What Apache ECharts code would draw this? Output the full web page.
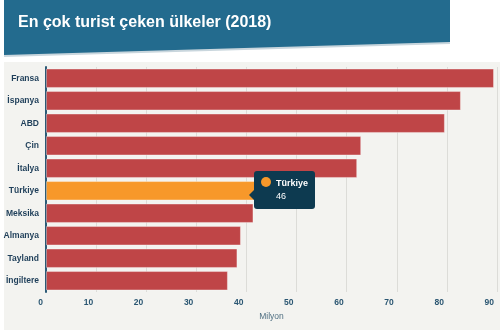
<!DOCTYPE html>
<html><head><meta charset="utf-8">
<script src="https://cdn.jsdelivr.net/npm/echarts@6/dist/echarts.min.js"></script>
<style>html,body{margin:0;padding:0;background:#fff}#c{width:500px;height:332px}</style>
</head><body><div id="c"></div>
<script>
var titleText = 'En çok turist çeken ülkeler (2018)';
var countries = ['Fransa','İspanya','ABD','Çin','İtalya','Türkiye','Meksika','Almanya','Tayland','İngiltere'];
var values = [89.4, 82.8, 79.6, 62.9, 62.1, 46, 41.4, 38.9, 38.2, 36.3];
var highlight = 'Türkiye';
var xTicks = {min:0, max:90, interval:10};
var axisName = 'Milyon';

var chart = echarts.init(document.getElementById('c'));
var font = '"Liberation Sans",Arial,sans-serif';
chart.setOption({
  animation:false,
  backgroundColor:'#ffffff',
  graphic:[
    {type:'rect', z:-10, shape:{x:4,y:62,width:496,height:268}, style:{fill:'#f3f3f0'}},
    {type:'polygon', z:1, shape:{points:[[4,2],[450,2],[450,44],[4,57]]}, style:{fill:'#c9d6dd'}},
    {type:'polygon', z:2, shape:{points:[[4,0],[450,0],[450,42],[4,55]]}, style:{fill:'#236b8e'}},
    {type:'text', z:3, left:18, top:15, style:{text:titleText, fill:'#ffffff', font:'bold 16px '+font}}
  ],
  grid:{left:46, right:3, top:67, bottom:40, containLabel:false},
  xAxis:{type:'value', min:xTicks.min, max:xTicks.max, interval:xTicks.interval,
    name:axisName, nameLocation:'middle', nameGap:18,
    nameTextStyle:{color:'#4f6f82', fontFamily:font, fontSize:8.5},
    axisLine:{show:false}, axisTick:{show:false},
    splitLine:{show:true, lineStyle:{color:'#dcdcd8', width:1}},
    axisLabel:{align:'right', margin:6, padding:[0,3,0,0], color:'#2a5672', fontFamily:font, fontWeight:'bold', fontSize:8.5}
  },
  yAxis:{type:'category', data:countries, inverse:true,
    axisLine:{show:true, lineStyle:{color:'#2b5a76', width:2}},
    axisTick:{show:false},
    axisLabel:{color:'#1f3f5a', fontFamily:font, fontWeight:'bold', fontSize:8.5, margin:7}
  },
  tooltip:{trigger:'item', triggerOn:'none', alwaysShowContent:true,
    backgroundColor:'#0d3a50', borderWidth:0, padding:[6,7,6,7],
    extraCssText:'border-radius:3px;box-shadow:none;overflow:visible;',
    position:function(){ return [254,171]; },
    formatter:function(p){
      return '<div style="position:relative;font-family:Liberation Sans,Arial,sans-serif;color:#fff;font-size:9px;line-height:13px;white-space:nowrap">'+
        '<div style="position:absolute;left:-12px;top:13px;width:0;height:0;border-top:5px solid transparent;border-bottom:5px solid transparent;border-right:5px solid #0d3a50"></div>'+
        '<span style="display:inline-block;width:10px;height:10px;border-radius:5px;background:#f7982a;vertical-align:-1px;margin-right:5px"></span>'+
        '<b>'+p.name+'</b><br><span style="margin-left:15px">'+p.value+'</span></div>';
    }
  },
  series:[{type:'bar', barCategoryGap:'14%',
    data:values.map(function(v,i){
      return {value:v, itemStyle:{color: countries[i]===highlight ? '#f7982a' : '#bf4547'}};
    }),
    itemStyle:{borderColor:'rgba(255,255,255,0.35)', borderWidth:1}
  }]
});
chart.dispatchAction({type:'showTip', seriesIndex:0, dataIndex:countries.indexOf(highlight)});
</script></body></html>
